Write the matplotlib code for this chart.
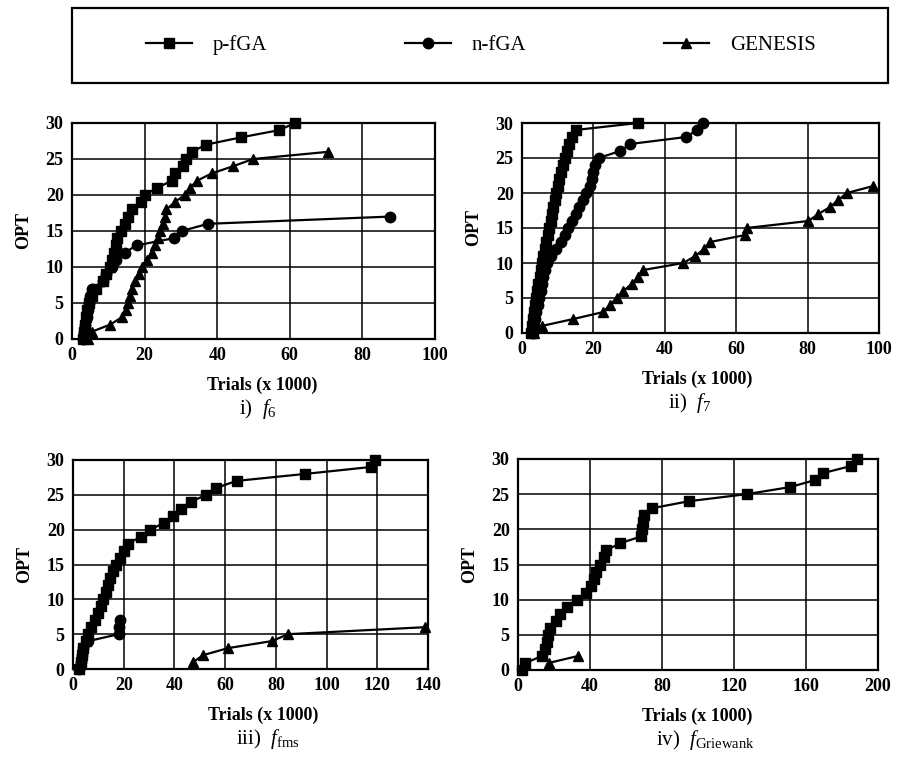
import numpy as np
import matplotlib.pyplot as plt
from matplotlib.patches import Rectangle

plt.rcParams['font.family'] = ['Liberation Serif', 'DejaVu Serif']
plt.rcParams['mathtext.fontset'] = 'custom'
plt.rcParams['mathtext.rm'] = 'Liberation Serif'
plt.rcParams['mathtext.it'] = 'Liberation Serif:italic'

# trials (x 1000) at which the k-th run reached the optimum (OPT = k)
f6_pfga_x = [3.0, 3.3, 3.5, 3.8, 4.2, 4.8, 5.5, 6.5, 8.5, 9.5, 10.5, 11.0, 11.5, 12.0, 12.5,
             13.5, 14.5, 15.5, 16.5, 19.0, 20.0, 23.5, 27.5, 28.5, 30.5, 31.5, 33.0, 37.0,
             46.5, 57.0, 61.5]
f6_pfga_y = list(range(31))
f6_nfga_x = [3.0, 3.3, 3.6, 4.0, 4.3, 4.6, 5.0, 5.5, 8.5, 9.5, 11.0, 12.0, 14.5, 17.8,
             28.0, 30.2, 37.5, 87.5]
f6_nfga_y = list(range(18))
f6_gen_x = [4.5, 5.4, 10.5, 13.7, 15.0, 15.5, 16.0, 16.5, 17.3, 18.5, 19.2, 20.6, 22.0,
            23.0, 23.6, 24.2, 25.0, 25.5, 26.0, 28.3, 31.0, 32.5, 34.5, 38.5, 44.4, 49.9, 70.6]
f6_gen_y = list(range(27))

f7_pfga_x = [2.5, 2.8, 3.0, 3.3, 3.6, 3.9, 4.2, 4.6, 5.0, 5.3, 5.6, 6.0, 6.4, 6.8, 7.2,
             7.6, 8.0, 8.4, 8.8, 9.2, 9.6, 10.0, 10.5, 11.0, 11.5, 12.0, 12.5, 13.2, 14.0,
             15.0, 32.5]
f7_pfga_y = list(range(31))
f7_nfga_x = [3.0, 3.3, 3.6, 4.0, 4.4, 4.8, 5.2, 5.6, 6.0, 6.4, 7.0, 8.0, 9.5, 11.0, 12.0,
             13.0, 14.0, 15.0, 16.0, 17.0, 18.0, 19.0, 19.5, 20.0, 20.5, 21.5, 27.5, 30.3,
             46.0, 49.0, 50.8]
f7_nfga_y = list(range(31))
f7_gen_x = [3.5, 5.5, 14.4, 22.8, 24.6, 26.5, 28.4, 30.7, 32.6, 34.0, 45.2, 48.5, 51.0,
            52.7, 62.5, 62.9, 80.2, 83.0, 86.3, 88.6, 91.0, 98.4]
f7_gen_y = list(range(22))

fms_pfga_x = [2.5, 3.0, 3.5, 4.0, 5.0, 6.0, 7.0, 8.5, 10.0, 11.0, 12.0, 13.0, 13.8, 14.6,
              15.8, 17.0, 18.5, 20.0, 21.5, 27.0, 30.5, 36.0, 39.5, 42.5, 46.5, 52.5, 56.5,
              64.5, 91.5, 117.5, 119.0]
fms_pfga_y = list(range(31))
fms_nfga_x = [2.5, 3.0, 3.5, 4.0, 6.0, 18.0, 18.3, 18.5]
fms_nfga_y = list(range(8))
fms_gen_x = [47.4, 51.4, 61.2, 78.3, 84.9, 138.8]
fms_gen_y = [1, 2, 3, 4, 5, 6]

grie_pfga_x = [2.0, 4.0, 13.5, 15.0, 16.0, 16.5, 17.5, 21.0, 23.5, 27.0, 32.5, 37.5, 40.5,
               42.0, 43.5, 45.5, 47.5, 49.0, 56.5, 68.5, 69.0, 69.5, 70.0, 74.5, 95.0, 127.0,
               151.0, 165.0, 169.5, 185.0, 188.5]
grie_pfga_y = list(range(31))
grie_nfga_x = []
grie_nfga_y = []
grie_gen_x = [17.0, 33.5]
grie_gen_y = [1, 2]

W, H = 902, 778
fig = plt.figure(figsize=(W / 100, H / 100), dpi=100)


def px_axes(l, t, r, b):
    return fig.add_axes([l / W, 1 - b / H, (r - l) / W, (b - t) / H])


panels = [
    ((72, 123, 435, 339), 100, 20, (f6_pfga_x, f6_pfga_y), (f6_nfga_x, f6_nfga_y),
     (f6_gen_x, f6_gen_y), r'i)  $f_6$', 262, 258),
    ((522, 123, 879, 333), 100, 20, (f7_pfga_x, f7_pfga_y), (f7_nfga_x, f7_nfga_y),
     (f7_gen_x, f7_gen_y), r'ii)  $f_7$', 697, 690),
    ((73, 460, 428, 669), 140, 20, (fms_pfga_x, fms_pfga_y), (fms_nfga_x, fms_nfga_y),
     (fms_gen_x, fms_gen_y), r'iii)  $f_{\mathrm{fms}}$', 263, 268),
    ((518, 459, 878, 670), 200, 40, (grie_pfga_x, grie_pfga_y), (grie_nfga_x, grie_nfga_y),
     (grie_gen_x, grie_gen_y), r'iv)  $f_{\mathrm{Griewank}}$', 697, 705),
]

handles = None
for (box, xmax, xstep, pf, nf, gen, title, tx, sx) in panels:
    ax = px_axes(*box)
    h1, = ax.plot(pf[0], pf[1], color='black', lw=1.6, marker='s', ms=7,
                  clip_on=False, zorder=5, label='p-fGA')
    h2, = ax.plot(nf[0], nf[1], color='black', lw=1.6, marker='o', ms=7.5,
                  clip_on=False, zorder=5, label='n-fGA')
    h3, = ax.plot(gen[0], gen[1], color='black', lw=1.6, marker='^', ms=6.5,
                  clip_on=False, zorder=5, label='GENESIS')
    if handles is None:
        handles = [h1, h2, h3]
    ax.set_xlim(0, xmax)
    ax.set_ylim(0, 30)
    ax.set_xticks(np.arange(0, xmax + 1, xstep))
    ax.set_yticks(np.arange(0, 31, 5))
    ax.grid(True, color='black', lw=1.1)
    ax.tick_params(length=0, labelsize=13, pad=6)
    for lab in ax.get_xticklabels() + ax.get_yticklabels():
        lab.set_fontweight('bold')
    for s in ax.spines.values():
        s.set_linewidth(1.6)
    ax.set_ylabel('OPT', fontsize=13, fontweight='bold', labelpad=10)
    bottom = box[3]
    fig.text(tx / W, 1 - (bottom + 46) / H, 'Trials (x 1000)', fontsize=13,
             fontweight='bold', ha='center', va='center')
    fig.text(sx / W, 1 - (bottom + 70) / H, title, fontsize=15,
             ha='center', va='center')

# legend box at the top
fig.patches.append(Rectangle((72 / W, 1 - 83 / H), 816 / W, 75 / H,
                             transform=fig.transFigure, fill=False,
                             edgecolor='black', lw=1.6))
fig.legend(handles=handles, loc='center', bbox_to_anchor=(481 / W, 1 - 45 / H),
           ncol=3, frameon=False, fontsize=15, handlelength=2.2, handletextpad=1.0,
           columnspacing=6.6)

fig.savefig('out.png', dpi=100)
